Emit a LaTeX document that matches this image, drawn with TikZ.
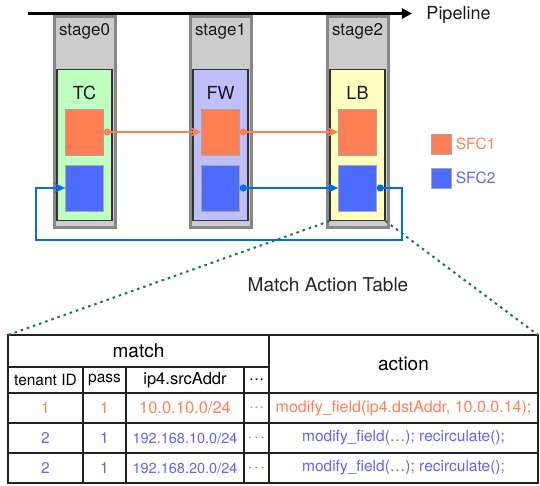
\documentclass[tikz,border=0pt]{standalone}
\usepackage{fontspec}
\setmainfont{TeX Gyre Heros}
\usetikzlibrary{arrows.meta, positioning}
\usepackage{xcolor}
\definecolor{sfcorange}{RGB}{255,127,85}
\definecolor{sfcblue}{RGB}{77,107,255}
\definecolor{sfctext}{RGB}{95,100,255}
\definecolor{loopblue}{RGB}{0,110,232}
\definecolor{colgray}{RGB}{204,204,204}
\definecolor{colborder}{RGB}{136,136,136}
\definecolor{tcgreen}{RGB}{191,255,191}
\definecolor{fwblue}{RGB}{191,191,255}
\definecolor{lbyellow}{RGB}{255,255,191}
\definecolor{zoomteal}{RGB}{27,107,107}
\definecolor{tline}{RGB}{34,34,34}
\newcommand{\fsz}[1]{\fontsize{#1}{#1}\selectfont}

\begin{document}
\begin{tikzpicture}[
    x=1pt, y=-1pt,
    stagecol/.style={draw=colborder, line width=3pt, fill=colgray, minimum width=61pt, minimum height=211pt, inner sep=0pt},
    stagelbl/.style={text=black!90, font=\fsz{17}},
    funcbox/.style={draw=black!80, line width=1.2pt, minimum width=55pt, minimum height=151pt, inner sep=0pt},
    funclbl/.style={text=black!90, font=\fsz{18}},
    sfcbox/.style={draw=gray!70, line width=0.5pt, minimum width=38pt, minimum height=46pt, inner sep=0pt},
    legbox/.style={draw=gray!70, line width=0.5pt, minimum size=20pt, inner sep=0pt},
    cell/.style={draw=tline, line width=1.8pt, inner sep=0pt, outer sep=0pt, minimum height=30pt, font=\fsz{15.5}},
    flow1/.style={draw=sfcorange, line width=2.4pt, {Circle[length=7pt]}-{Stealth[length=11pt,width=10pt,inset=4pt]}},
    flow2/.style={draw=loopblue, line width=2.4pt, {Circle[length=7pt]}-{Stealth[length=11pt,width=10pt,inset=4pt]}},
    zoomline/.style={draw=zoomteal, line width=2pt, dash pattern=on 2.5pt off 4pt}
]
\useasboundingbox (0,0) rectangle (540,485);

\node[stagecol] (st0) at (84.5,122) {};
\node[stagecol] (st1) at (220.5,122) {};
\node[stagecol] (st2) at (357.5,122) {};
\node[stagelbl] (st0lbl) at (84.5,31) {stage0};
\node[stagelbl] (st1lbl) at (220.5,31) {stage1};
\node[stagelbl] (st2lbl) at (357.5,31) {stage2};

\node[funcbox, fill=tcgreen] (tc) at (84.5,145) {};
\node[funcbox, fill=fwblue] (fw) at (220.5,145) {};
\node[funcbox, fill=lbyellow] (lb) at (357.5,145) {};
\node[funclbl] (tclbl) at (84.5,93) {TC};
\node[funclbl] (fwlbl) at (220.5,93) {FW};
\node[funclbl] (lblbl) at (357.5,93) {LB};

\node[sfcbox, fill=sfcorange] (tc1) at (84.5,132) {};
\node[sfcbox, fill=sfcblue] (tc2) at (84.5,188) {};
\node[sfcbox, fill=sfcorange] (fw1) at (220.5,132) {};
\node[sfcbox, fill=sfcblue] (fw2) at (220.5,188) {};
\node[sfcbox, fill=sfcorange] (lb1) at (357.5,132) {};
\node[sfcbox, fill=sfcblue] (lb2) at (357.5,188) {};

% pipeline axis
\coordinate (pipestart) at (28,13.5);
\node[font=\fsz{18}, text=black!90] (pipe) at (458.5,15) {Pipeline};
\draw[line width=3pt, -{Triangle[length=10pt,width=10pt]}] (pipestart) -- ([xshift=-11pt]pipe.west |- pipestart);

% legend
\node[legbox, fill=sfcorange] (leg1) at (441,144) {};
\node[right=1pt of leg1, text=sfcorange, font=\fsz{15.5}] (leg1lbl) {SFC1};
\node[legbox, fill=sfcblue] (leg2) at (441,178) {};
\node[right=1pt of leg2, text=sfctext, font=\fsz{15.5}] (leg2lbl) {SFC2};

% flows
\coordinate (loopR) at (402,240);
\coordinate (loopL) at (36,240);
\draw[flow1] (tc1.east) -- (fw1.west);
\draw[flow1] (fw1.east) -- (lb1.west);
\draw[flow2] (fw2.east) -- (lb2.west);
\draw[flow2] (lb2.east) -| (loopR) -- (loopL) |- (tc2.west);

% match action table
\node[font=\fsz{19}, text=black!85] (mat) at (328,285) {Match Action Table};
\node[cell, minimum width=261pt, minimum height=32pt, font=\fsz{19}] (match) at (138.5,351) {match};
\node[cell, minimum width=269pt, minimum height=58pt, font=\fsz{19}] (action) at (403.5,364) {action};
\node[cell, minimum width=75pt, minimum height=26pt] (tid) at (45.5,380) {tenant ID};
\node[cell, minimum width=43pt, minimum height=26pt] (pss) at (104.5,380) {pass};
\node[cell, minimum width=118pt, minimum height=26pt, font=\fsz{16.5}] (src) at (185,380) {ip4.srcAddr};
\node[cell, minimum width=25pt, minimum height=26pt] (etc) at (256.5,380) {…};

\node[cell, minimum width=75pt, text=sfcorange] (tid1) at (45.5,408) {1};
\node[cell, minimum width=43pt, text=sfcorange] (pss1) at (104.5,408) {1};
\node[cell, minimum width=118pt, text=sfcorange, font=\fsz{16.5}] (src1) at (185,408) {10.0.10.0/24};
\node[cell, minimum width=25pt, text=sfcorange] (etc1) at (256.5,408) {…};
\node[cell, minimum width=269pt, text=sfcorange, font=\fsz{16}] (act1) at (403.5,408) {modify\_field(ip4.dstAddr, 10.0.0.14);};

\node[cell, minimum width=75pt, text=sfctext] (tid2) at (45.5,438) {2};
\node[cell, minimum width=43pt, text=sfctext] (pss2) at (104.5,438) {1};
\node[cell, minimum width=118pt, text=sfctext, font=\fsz{14.5}] (src2) at (185,438) {192.168.10.0/24};
\node[cell, minimum width=25pt, text=sfctext] (etc2) at (256.5,438) {$\cdots$};
\node[cell, minimum width=269pt, text=sfctext] (act2) at (403.5,438) {modify\_field(…); recirculate();};

\node[cell, minimum width=75pt, text=sfctext] (tid3) at (45.5,468) {2};
\node[cell, minimum width=43pt, text=sfctext] (pss3) at (104.5,468) {1};
\node[cell, minimum width=118pt, text=sfctext, font=\fsz{14.5}] (src3) at (185,468) {192.168.20.0/24};
\node[cell, minimum width=25pt, text=sfctext] (etc3) at (256.5,468) {$\cdots$};
\node[cell, minimum width=269pt, text=sfctext] (act3) at (403.5,468) {modify\_field(…); recirculate();};

\draw[zoomline] (lb.south west) -- (match.north west);
\draw[zoomline] (lb.south east) -- (action.north east);

\end{tikzpicture}
\end{document}
